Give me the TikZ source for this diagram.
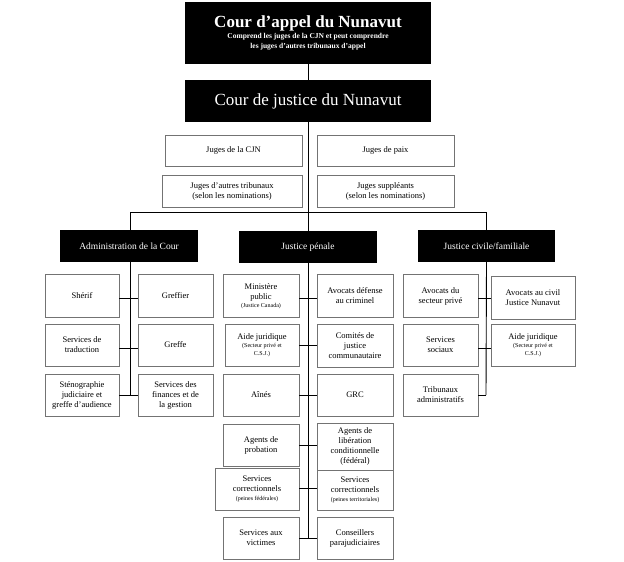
\documentclass[tikz,border=0pt]{standalone}
\usepackage{fontspec}
\setmainfont{Liberation Serif}
\begin{document}
\begin{tikzpicture}[x=1pt,y=-1pt,
  bx/.style={draw=black!55,line width=0.8pt,fill=white,align=center,font=\fontsize{8.5}{10}\selectfont,inner sep=1pt},
  hd/.style={fill=black,text=white,align=center,font=\fontsize{9.5}{11}\selectfont,inner sep=0pt},
  sm/.style={font=\fontsize{6}{7}\selectfont},
  ln/.style={line width=0.9pt}]
\useasboundingbox (0,0) rectangle (624,562);
\newcommand{\bb}[5]{\node[bx,minimum width=#3-#1,minimum height=#4-#2] (#5) at ({(#1+#3)/2},{(#2+#4)/2}) {};}
% top
\node[hd,minimum width=246,minimum height=62] (t1) at (308,33) {};
\node[text=white,align=center,font=\bfseries] at (308,33) {{\fontsize{17}{19}\selectfont Cour d'appel du Nunavut}\\[-1pt]{\fontsize{7.5}{9}\selectfont Comprend les juges de la CJN et peut comprendre}\\[-2pt]{\fontsize{7.5}{9}\selectfont les juges d'autres tribunaux d'appel}};
\node[hd,minimum width=246,minimum height=42,font=\fontsize{17}{19}\selectfont] (t2) at (308,101) {Cour de justice du Nunavut};
\draw[ln] (t1.south) -- (t2.north);
\coordinate (bar) at (308,212);
\draw[ln] (t2.south) -- (bar);
\node[bx,minimum width=137,minimum height=31] (j1) at (233.5,150.5) {Juges de la CJN};
\node[bx,minimum width=137,minimum height=31] (j2) at (385.5,150.5) {Juges de paix};
\node[bx,minimum width=140,minimum height=32] (j3) at (232,191) {Juges d'autres tribunaux\\(selon les nominations)};
\node[bx,minimum width=137,minimum height=32] (j4) at (385.5,191) {Juges suppléants\\(selon les nominations)};
\coordinate (bl) at (130,212); \coordinate (br) at (486,212);
\draw[ln] (bl) -- (br);
\node[hd,minimum width=138,minimum height=32] (ha) at (129,246) {Administration de la Cour};
\node[hd,minimum width=138,minimum height=32] (hp) at (308,247) {Justice pénale};
\node[hd,minimum width=137,minimum height=32] (hc) at (486.5,246) {Justice civile/familiale};
\draw[ln] (bl) -- (bl|-ha.north);
\draw[ln] (bar) -- (hp.north);
\draw[ln] (br) -- (br|-hc.north);
% admin
\coordinate (a1) at (130,298); \coordinate (a2) at (130,348); \coordinate (a3) at (130,395);
\draw[ln] (ha.south-|a1) -- (a3);
\node[bx,minimum width=74,minimum height=43] (s1) at (82,296) {Shérif};
\node[bx,minimum width=75,minimum height=43] (s2) at (175.5,296) {Greffier};
\node[bx,minimum width=74,minimum height=42] (s3) at (82,345) {Services de\\traduction};
\node[bx,minimum width=75,minimum height=42] (s4) at (175.5,345) {Greffe};
\node[bx,minimum width=74,minimum height=42] (s5) at (82,395) {Sténographie\\judiciaire et\\greffe d'audience};
\node[bx,minimum width=75,minimum height=42] (s6) at (175.5,395) {Services des\\finances et de\\la gestion};
\foreach \c/\l/\r in {a1/s1/s2,a3/s5/s6} \draw[ln] (\l.east|-\c) -- (\r.west|-\c);
\draw[ln] (s3.east|-a2) -- (s4.west|-a2);
% penale
\coordinate (p1) at (308,298); \coordinate (p2) at (308,345); \coordinate (p3) at (308,395);
\coordinate (p4) at (308,445); \coordinate (p5) at (308,488); \coordinate (p6) at (308,538);
\draw[ln] (hp.south) -- (p6);
\node[bx,minimum width=76,minimum height=43] (q1) at (261,296) {Ministère\\public\\[-2pt]{\fontsize{6}{7}\selectfont (Justice Canada)}};
\node[bx,minimum width=76,minimum height=43] (r1) at (355,296) {Avocats défense\\au criminel};
\node[bx,minimum width=74,minimum height=42] (q2) at (262,345) {Aide juridique\\[-2pt]{\fontsize{6}{7}\selectfont (Secteur privé et}\\[-2pt]{\fontsize{6}{7}\selectfont C.S.J.)}};
\node[bx,minimum width=76,minimum height=43] (r2) at (355,345.5) {Comités de\\justice\\communautaire};
\node[bx,minimum width=76,minimum height=42] (q3) at (261,395) {Aînés};
\node[bx,minimum width=76,minimum height=42] (r3) at (355,395) {GRC};
\node[bx,minimum width=76,minimum height=42] (q4) at (261,445) {Agents de\\probation};
\node[bx,minimum width=76,minimum height=47] (r4) at (355,446.5) {Agents de\\libération\\conditionnelle\\(fédéral)};
\node[bx,minimum width=84,minimum height=42] (q5) at (257,489) {Services\\correctionnels\\[-1pt]{\fontsize{6}{7}\selectfont (peines fédérales)}};
\node[bx,minimum width=76,minimum height=40] (r5) at (355,490) {Services\\correctionnels\\[-1pt]{\fontsize{6}{7}\selectfont (peines territoriales)}};
\node[bx,minimum width=76,minimum height=42] (q6) at (261,538) {Services aux\\victimes};
\node[bx,minimum width=76,minimum height=42] (r6) at (355,538) {Conseillers\\parajudiciaires};
\foreach \i in {1,...,6} \draw[ln] (q\i.east|-p\i) -- (r\i.west|-p\i);
% civile
\coordinate (c1) at (486,298); \coordinate (c2) at (486,348); \coordinate (c3) at (486,395);
\draw[ln] (hc.south) -- (c3);
\node[bx,minimum width=75,minimum height=43] (u1) at (440.5,296) {Avocats du\\secteur privé};
\node[bx,minimum width=84,minimum height=43] (v1) at (533,297.5) {Avocats au civil\\Justice Nunavut};
\node[bx,minimum width=75,minimum height=42] (u2) at (440.5,345) {Services\\sociaux};
\node[bx,minimum width=84,minimum height=42] (v2) at (533,345) {Aide juridique\\[-2pt]{\fontsize{6}{7}\selectfont (Secteur privé et}\\[-2pt]{\fontsize{6}{7}\selectfont C.S.J.)}};
\node[bx,minimum width=75,minimum height=42] (u3) at (440.5,395) {Tribunaux\\administratifs};
\draw[ln] (u1.east|-c1) -- (v1.west|-c1);
\draw[ln] (u2.east|-c2) -- (v2.west|-c2);
\draw[ln] (u3.east|-c3) -- (c3);
\end{tikzpicture}
\end{document}
